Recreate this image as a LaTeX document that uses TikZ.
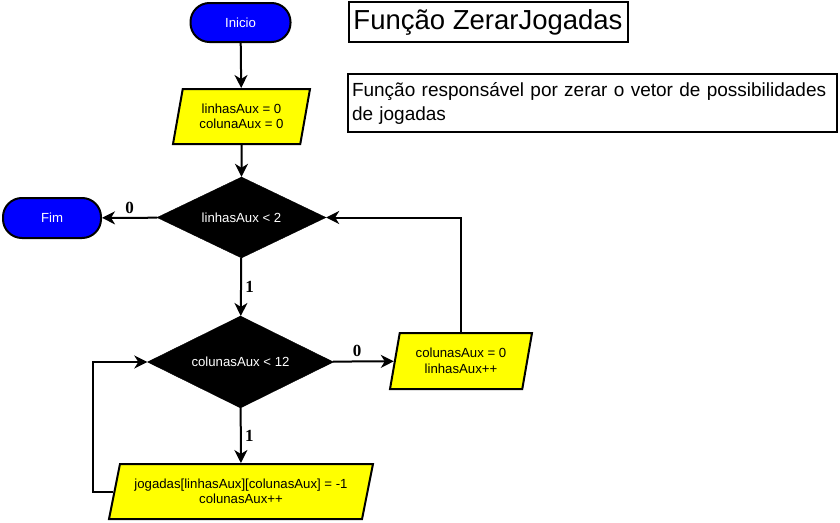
\documentclass[tikz,border=0pt]{standalone}
\usepackage{fontspec}
\setmainfont{Liberation Sans}
\newfontfamily\lblfont{Liberation Serif}
\usetikzlibrary{arrows.meta,positioning,shapes.geometric}
\definecolor{fcblue}{HTML}{0000FF}
\definecolor{fcyellow}{HTML}{FFFF00}
\begin{document}
\begin{tikzpicture}[
    x=1pt,y=-1pt,
    font=\fontsize{13.2}{15.5}\selectfont,
    term/.style={draw=black,line width=2pt,fill=fcblue,text=white,rounded corners=19pt,minimum width=100pt,minimum height=39pt},
    io/.style={draw=black,line width=2pt,fill=fcyellow,trapezium,trapezium left angle=73,trapezium right angle=107,trapezium stretches body,align=center,minimum height=55pt},
    cond/.style={draw=black,fill=black,text=white,diamond,aspect=2.1,inner sep=0pt},
    box/.style={draw=black,line width=2pt,fill=white,inner sep=4pt},
    arr/.style={-{Stealth[length=13pt,width=13pt,inset=4pt]},line width=2pt},
    lbl/.style={font=\lblfont\bfseries\fontsize{17}{19}\selectfont}
  ]
    \useasboundingbox (0,0) rectangle (840,522);
    \node[term] (inicio) at (240.5,22.5) {Inicio};
    \node[io,minimum width=137pt] (init) at (241.5,116.5) {linhasAux = 0\\colunaAux = 0};
    \node[cond,minimum width=169pt,minimum height=81pt] (cond1) at (241.5,217.5) {linhasAux < 2};
    \node[term,minimum width=98pt,minimum height=40pt] (fim) at (52,218) {Fim};
    \node[cond,minimum width=186pt,minimum height=92pt] (cond2) at (240.5,362) {colunasAux < 12};
    \node[io,minimum width=142pt,minimum height=56pt] (reset) at (461,361) {colunasAux = 0\\linhasAux++};
    \node[io,trapezium left angle=71,trapezium right angle=109,minimum width=264pt] (body) at (241,491.5) {jogadas[linhasAux][colunasAux] = -1\\colunasAux++};
    \node[box,minimum width=279pt,minimum height=40pt,font=\fontsize{27.5}{31}\selectfont] (title) at (488,22) {Função ZerarJogadas};
    \node[box,text width=481pt,minimum height=58pt,align=left,font=\fontsize{19}{24}\selectfont] (desc) at (592.5,103) {Função responsável por zerar o vetor de possibilidades\\de jogadas};
    \foreach \a/\b in {inicio/init,init/cond1}
      \draw[arr] (\a) -- (\b);
    \draw[arr] (cond1) -- node[lbl,above] {0} (fim);
    \draw[arr] (cond1) -- node[lbl,right] {1} (cond2);
    \draw[arr] (cond2) -- node[lbl,above,pos=0.4] {0} (reset);
    \draw[arr] (cond2) -- node[lbl,right] {1} (body);
    \draw[arr] (reset.north -| reset.center) |- (cond1.east);
    \draw[arr] (body.west) -- ++(-20,0) |- (cond2.west);
  \end{tikzpicture}
\end{document}
